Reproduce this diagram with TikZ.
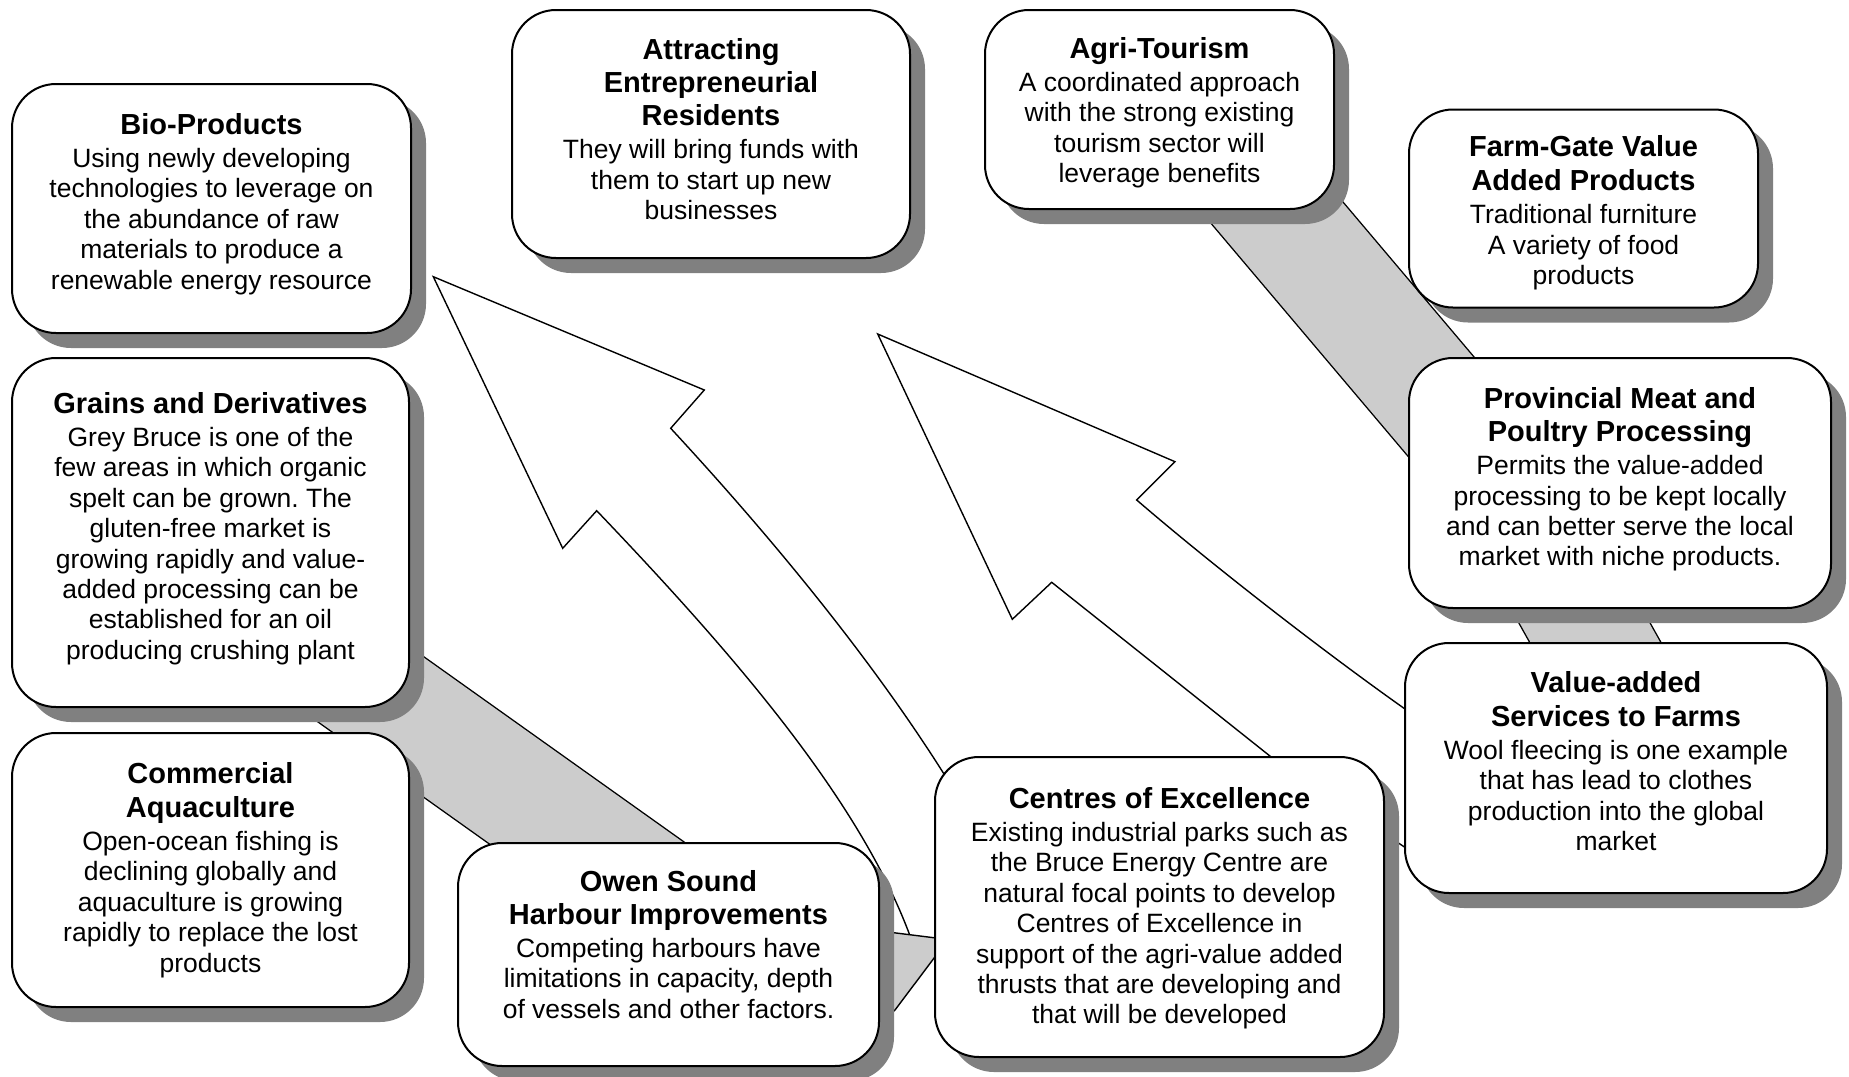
\documentclass[tikz,border=0pt]{standalone}
\usepackage{fontspec}
\setmainfont{Liberation Sans}
\usetikzlibrary{shadows,calc}
\definecolor{shadowgray}{RGB}{128,128,128}
\definecolor{bandgray}{RGB}{204,204,204}
\pgfdeclarelayer{arrowlayer}
\pgfdeclarelayer{bandlayer}
\pgfsetlayers{arrowlayer,bandlayer,main}
\frenchspacing
\newcommand{\boxtitle}[1]{{\fontsize{14.5pt}{15.2pt}\selectfont\bfseries #1}}
\begin{document}
\begin{tikzpicture}[x=0.5pt,y=-0.5pt,
  box/.style={rectangle, rounded corners=22pt, draw=black, line width=1pt, fill=white, inner sep=0pt,
    general shadow={fill=shadowgray, shadow xshift=7.5pt, shadow yshift=-7.5pt}},
  txt/.style={anchor=north, align=center, inner sep=0pt, font=\fontsize{13.25pt}{15.2pt}\selectfont\frenchspacing},
  arrowshape/.style={draw=black, fill=white, line width=0.7pt, line join=miter},
  band/.style={draw=black, line width=0.7pt, double=bandgray, double distance=56.5pt},
  bandshape/.style={draw=black, fill=bandgray, line width=0.7pt, line join=round}]
\useasboundingbox (0,0) rectangle (1849,1077);

% boxes
\node[box, minimum width=199.5pt, minimum height=124.5pt] (bio) at (211.5,208.5) {};
\node[box, minimum width=199pt, minimum height=124pt] (attr) at (711,134) {};
\node[box, minimum width=174.5pt, minimum height=99.5pt] (agri) at (1159.5,109.5) {};
\node[box, minimum width=174.5pt, minimum height=99pt] (farm) at (1583.5,208.5) {};
\node[box, minimum width=198.5pt, minimum height=174.5pt] (grains) at (210.5,532.5) {};
\node[box, minimum width=211pt, minimum height=125pt] (prov) at (1620,483) {};
\node[box, minimum width=198.5pt, minimum height=137pt] (comm) at (210.5,870) {};
\node[box, minimum width=210.5pt, minimum height=111.5pt] (owen) at (668.5,954.5) {};
\node[box, minimum width=224.5pt, minimum height=150pt] (centres) at (1159.5,907) {};
\node[box, minimum width=211pt, minimum height=125pt] (value) at (1616,768) {};

% texts
\node[txt] (biot) at (211.5,113) {\boxtitle{Bio-Products}\\[1.3pt]
  Using newly developing\\ technologies to leverage on\\ the abundance of raw\\
  materials to produce a\\ renewable energy resource};
\node[txt] (attrt) at (711,38) {\boxtitle{Attracting}\\[1.4pt]\boxtitle{Entrepreneurial}\\[1.4pt]
  \boxtitle{Residents}\\[1.3pt] They will bring funds with\\ them to start up new\\ businesses};
\node[txt] (agrit) at (1159.5,37) {\boxtitle{Agri-Tourism}\\[1.3pt]
  A coordinated approach\\ with the strong existing\\ tourism sector will\\ leverage benefits};
\node[txt] (farmt) at (1583.5,135.5) {\boxtitle{Farm-Gate Value}\\[1.8pt]\boxtitle{Added Products}\\[1.3pt]
  Traditional furniture\\ A variety of food\\ products};
\node[txt] (grainst) at (210.5,392) {\boxtitle{Grains and Derivatives}\\[1.3pt]
  Grey Bruce is one of the\\ few areas in which organic\\ spelt can be grown. The\\
  gluten-free market is\\ growing rapidly and value-\\ added processing can be\\
  established for an oil\\ producing crushing plant};
\node[txt] (provt) at (1620,387) {\boxtitle{Provincial Meat and}\\[1.4pt]\boxtitle{Poultry Processing}\\[1.3pt]
  Permits the value-added\\ processing to be kept locally\\ and can better serve the local\\
  market with niche products.};
\node[txt] (commt) at (210.5,762) {\boxtitle{Commercial}\\[1.8pt]\boxtitle{Aquaculture}\\[1.3pt]
  Open-ocean fishing is\\ declining globally and\\ aquaculture is growing\\
  rapidly to replace the lost\\ products};
\node[txt] (owent) at (668.5,870.5) {\boxtitle{Owen Sound}\\[1pt]\boxtitle{Harbour Improvements}\\[1.3pt]
  Competing harbours have\\ limitations in capacity, depth\\ of vessels and other factors.};
\node[txt] (centrest) at (1159.5,787) {\boxtitle{Centres of Excellence}\\[1.3pt]
  Existing industrial parks such as\\ the Bruce Energy Centre are\\ natural focal points to develop\\
  Centres of Excellence in\\ support of the agri-value added\\ thrusts that are developing and\\
  that will be developed};
\node[txt] (valuet) at (1616,671) {\boxtitle{Value-added}\\[1.8pt]\boxtitle{Services to Farms}\\[1.3pt]
  Wool fleecing is one example\\ that has lead to clothes\\ production into the global\\ market};

% big white arrows
\begin{pgfonlayer}{arrowlayer}
\fill[white] (0,0) rectangle (1849,1077);
\draw[arrowshape] (433.3,276.7) -- (704.3,390) -- (670.7,428.3)
  .. controls (772.6,538.4) and (882.9,671.5) .. (960,800)
  -- (960,940) -- (915,950)
  .. controls (867.6,807.7) and (734.7,655.3) .. (596.7,510.7)
  -- (562.7,548.3) -- cycle;
\draw[arrowshape] (877.7,334) -- (1175,461.7) -- (1136.7,500)
  .. controls (1220,571.8) and (1358.5,679) .. (1450,740)
  -- (1450,876.8) -- (1290,772)
  .. controls (1210.6,708.8) and (1131.1,645.5) .. (1051.7,582.3)
  -- (1012.3,619.3) -- cycle;
\end{pgfonlayer}

% gray bands
\begin{pgfonlayer}{bandlayer}
\draw[band] ($(grains.center)+(39.5,70.8)$) -- ($(owen.center)+(31.5,-30.9)$);
\draw[band] ($(agri.center)+(64.5,40.5)$) -- ($(prov.center)+(-100,17)$);
\draw[band] ($(value.center)+(45.2,-8)$) -- ($(prov.center)+(-93.2,37)$);
\draw[bandshape] ($(owen.center)+(131.5,-33.5)$) -- ($(centres.center)+(-211.5,32.5)$)
  -- ($(owen.center)+(226.5,55.5)$) -- ($(owen.center)+(191.5,85.5)$)
  -- ($(owen.center)+(131.5,85.5)$) -- cycle;
\end{pgfonlayer}
\end{tikzpicture}
\end{document}
